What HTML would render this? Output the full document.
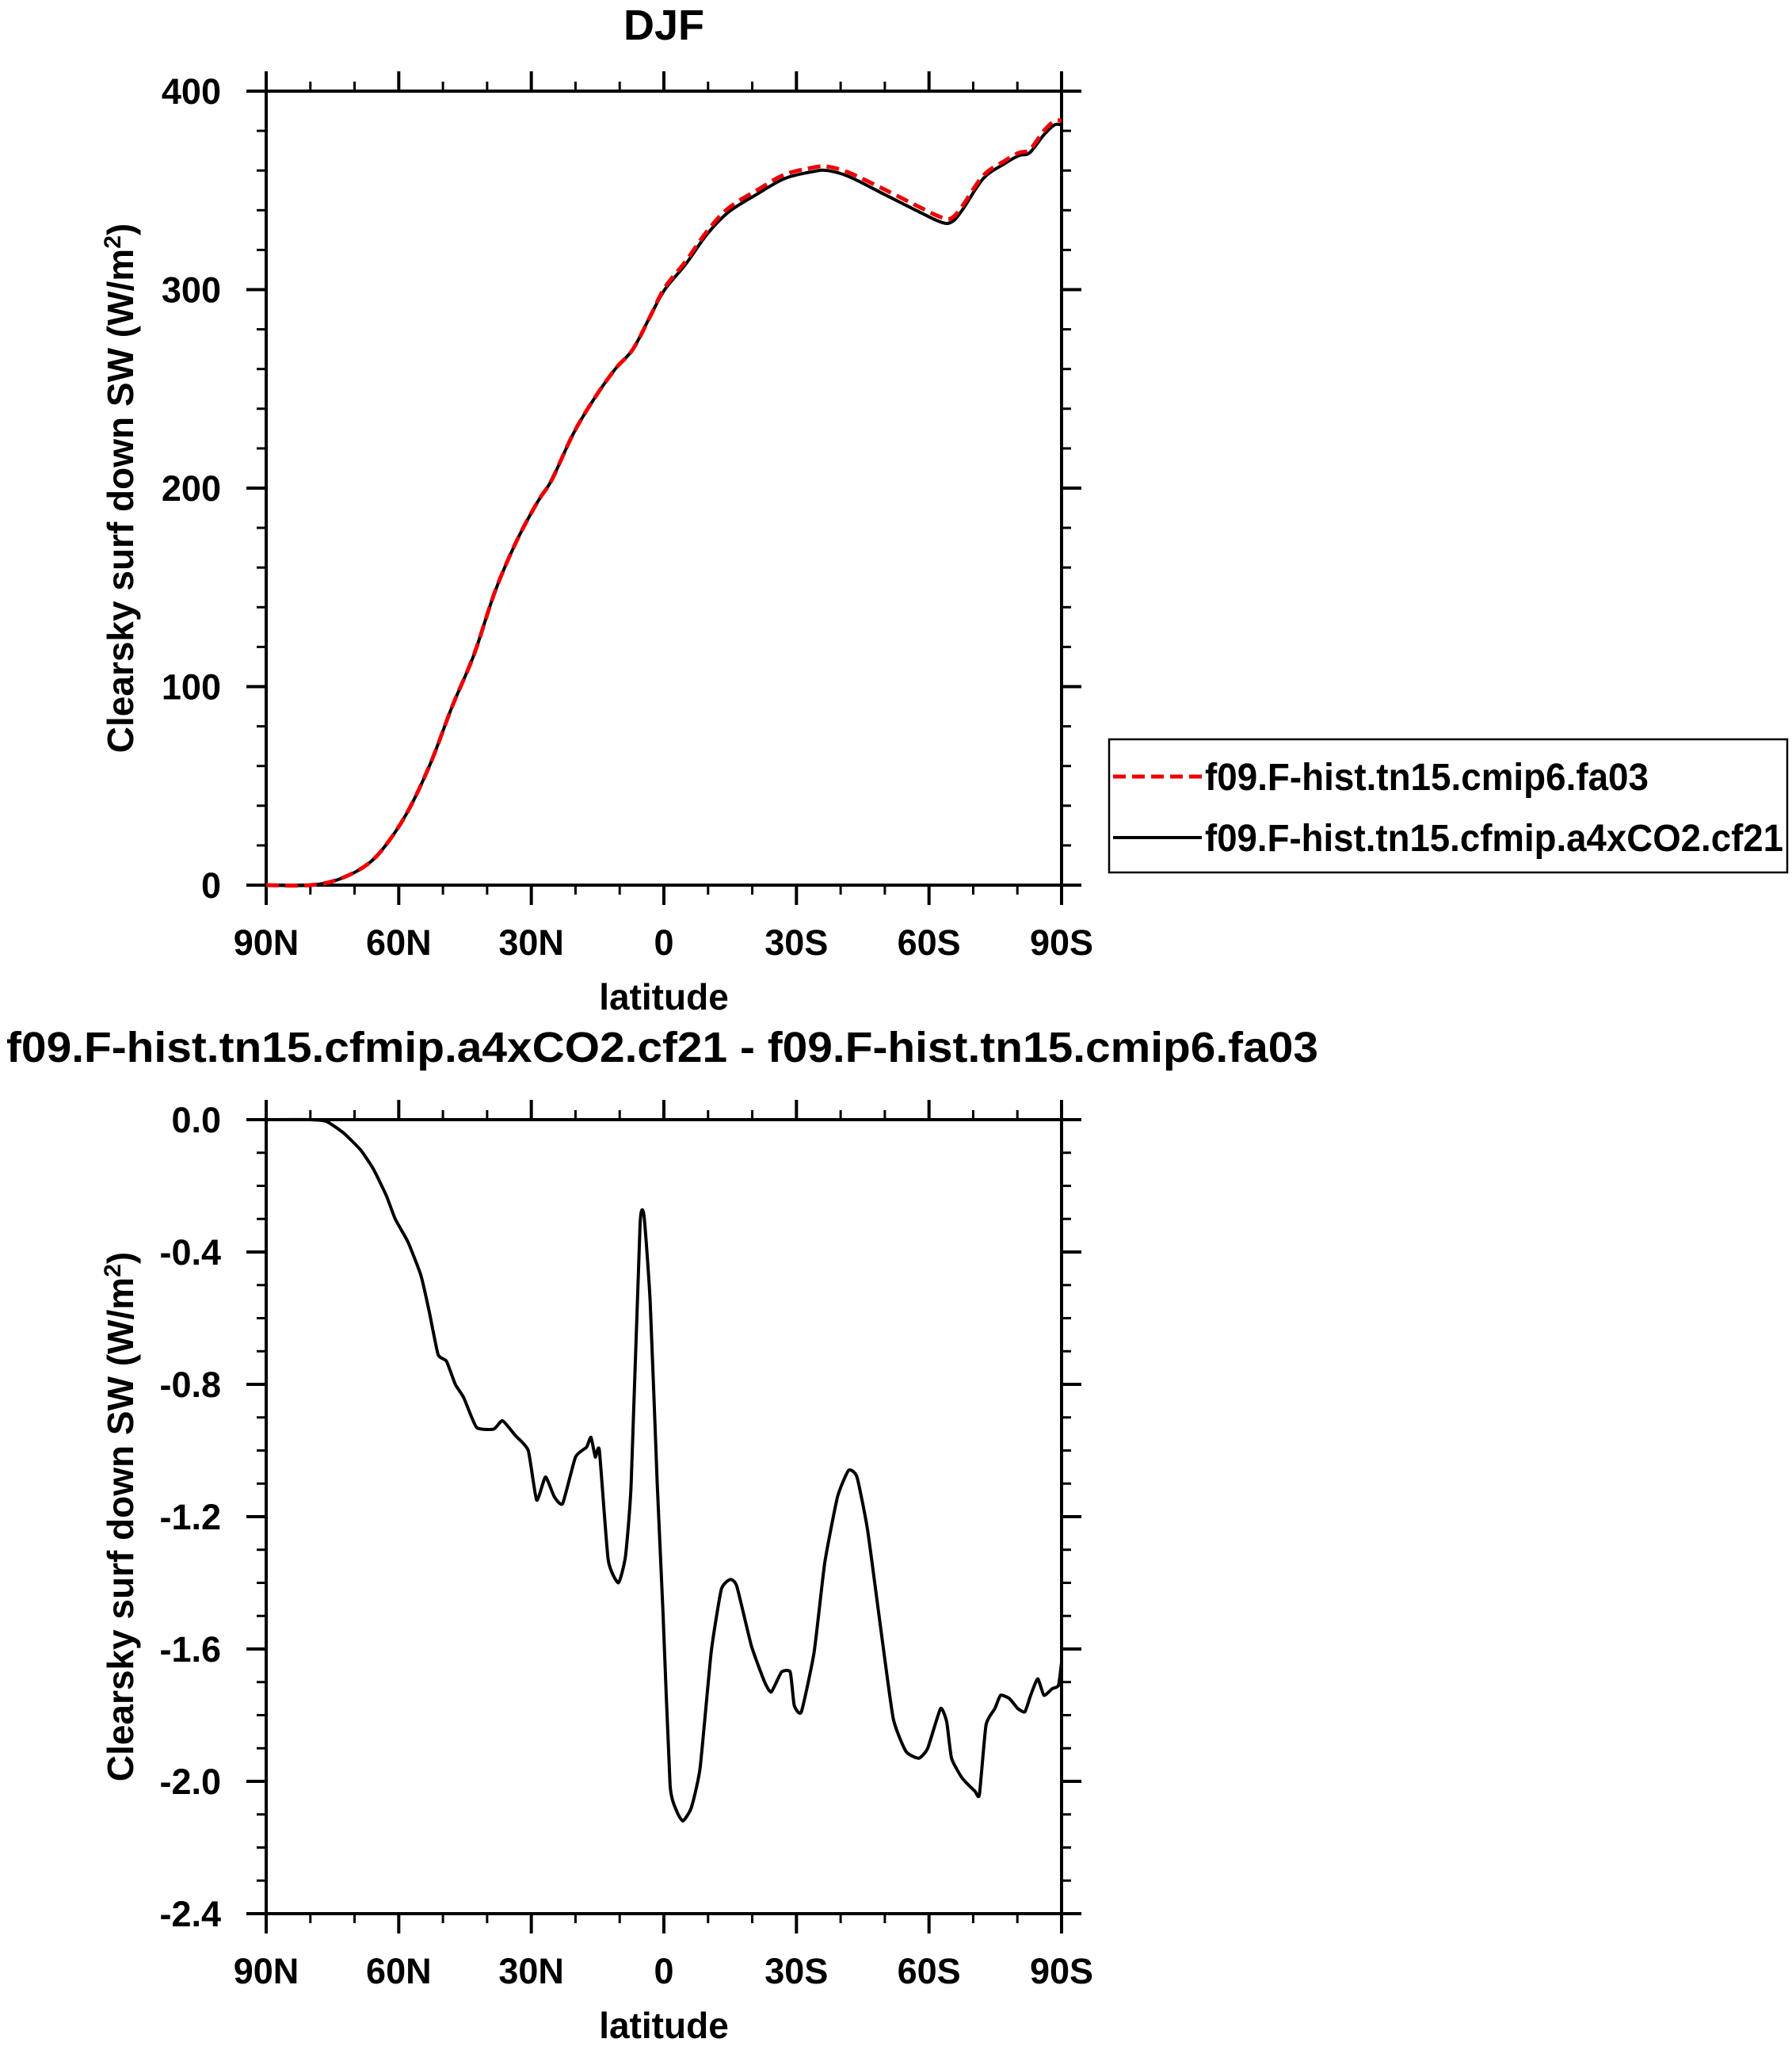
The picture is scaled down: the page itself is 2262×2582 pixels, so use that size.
<!DOCTYPE html>
<html><head><meta charset="utf-8"><style>
html,body{margin:0;padding:0;background:#fff;}
svg{display:block;font-family:"Liberation Sans",sans-serif;font-weight:bold;}
</style></head><body>
<svg id="fig" width="2262" height="2582" viewBox="0 0 2262 2582" xmlns="http://www.w3.org/2000/svg">
<text x="838" y="50" font-size="54" text-anchor="middle">DJF</text>
<text x="836" y="1340" font-size="54" text-anchor="middle" textLength="1656" lengthAdjust="spacingAndGlyphs">f09.F-hist.tn15.cfmip.a4xCO2.cf21 - f09.F-hist.tn15.cmip6.fa03</text>
<g id="top"></g>
<g id="bot"></g>
<g>
<rect x="1400" y="933" width="856" height="168" fill="none" stroke="#000" stroke-width="2.5"/>
<line x1="1405" y1="980" x2="1517" y2="980" stroke="#e00" stroke-width="5" stroke-dasharray="16,8"/>
<text x="1521" y="997" font-size="48" textLength="560" lengthAdjust="spacingAndGlyphs">f09.F-hist.tn15.cmip6.fa03</text>
<line x1="1405" y1="1057" x2="1517" y2="1057" stroke="#000" stroke-width="4"/>
<text x="1521" y="1074" font-size="48" textLength="730" lengthAdjust="spacingAndGlyphs">f09.F-hist.tn15.cfmip.a4xCO2.cf21</text>
</g>
</svg>
<script>
const NS="http://www.w3.org/2000/svg";
const xTickLabels=["90N","60N","30N","0","30S","60S","90S"];
const xTickLats=[90,60,30,0,-30,-60,-90];
const topYTicks=[0,100,200,300,400];
const topYLabels=["0","100","200","300","400"];
const botYTicks=[0,-0.4,-0.8,-1.2,-1.6,-2.0,-2.4];
const botYLabels=["0.0","-0.4","-0.8","-1.2","-1.6","-2.0","-2.4"];
const topLats=[90,80,73.5,67,62.3,57.5,52.7,47.9,43,38.2,33.4,28.6,25.4,20.6,15.8,11,7,3,-0.2,-5,-9.8,-14.6,-21,-27.4,-33.8,-37,-41.8,-49.9,-57.9,-62.7,-65.1,-67.5,-72.3,-77.2,-80.4,-82.8,-86,-88.4,-90];
const cf21Vals=[0,0,3,10.6,22,39,62,90,116,148,173,193,204,227,245,260,270,287,300,313,328,339,348,356,359.5,360,357,348,339,334,334,340,356,363.6,367.6,369,378,383,383];
const fa03Vals=[0,0,3,10.6,22,39,62,90,116,148,173,193,204,227,245,260,270,287,301,314.5,329.5,341,350,358,361.5,362,359,350.5,341.5,336.5,336,342,357.5,365,369,370.5,380,385,385];
const diffLats=[90,80.3,76.4,72.5,68.6,65.7,62.8,60.8,57.9,55,53.1,51.1,49.2,47.2,45.3,42.4,38.5,36.5,33.6,30.7,28.8,26.8,24.8,22.9,20,17.5,16.5,15.5,14.6,12.6,10.3,8.7,7.4,5.4,4.5,3.1,1.5,0.2,-1.4,-2.9,-4.3,-6.2,-8.2,-10.7,-13,-15,-16.5,-19.8,-22.8,-24.3,-26.6,-28.6,-29.5,-31.1,-34,-36.4,-39.3,-41.8,-43.7,-46.1,-49,-51.9,-54.8,-57.7,-59.7,-62.6,-64,-65.1,-67.5,-70.4,-71.4,-72.9,-74.9,-76.2,-78.2,-80.1,-81.7,-83,-84.6,-86,-87.9,-89.3,-90];
const diffVals=[0,0,-0.005,-0.04,-0.092,-0.15,-0.23,-0.30,-0.37,-0.47,-0.58,-0.71,-0.73,-0.80,-0.84,-0.93,-0.935,-0.91,-0.955,-1.00,-1.15,-1.08,-1.14,-1.16,-1.02,-0.99,-0.96,-1.02,-1.00,-1.33,-1.40,-1.32,-1.10,-0.32,-0.29,-0.55,-1.10,-1.49,-2.01,-2.09,-2.12,-2.08,-1.96,-1.61,-1.42,-1.39,-1.41,-1.59,-1.70,-1.73,-1.67,-1.67,-1.77,-1.79,-1.61,-1.34,-1.14,-1.06,-1.08,-1.24,-1.53,-1.81,-1.91,-1.93,-1.90,-1.78,-1.82,-1.93,-1.99,-2.03,-2.04,-1.83,-1.78,-1.74,-1.75,-1.78,-1.79,-1.74,-1.69,-1.74,-1.72,-1.71,-1.64];

function el(tag,attrs,parent){const e=document.createElementNS(NS,tag);for(const k in attrs)e.setAttribute(k,attrs[k]);parent.appendChild(e);return e;}

function panel(g,top,bottom,ymin,ymax,yTicks,yLabels,minorStep,prefix){
  const L=336,R=1340;
  const xs=lat=>L+(90-lat)/180*(R-L);
  const ys=v=>bottom-(v-ymin)/(ymax-ymin)*(bottom-top);
  for(let lat=90;lat>=-90;lat-=10){
    if(lat%30===0)continue;
    const x=xs(lat);
    const t1=el('line',{x1:x,y1:top,x2:x,y2:top-12,stroke:'#000','stroke-width':3},g);
    
    
    const t2=el('line',{x1:x,y1:bottom,x2:x,y2:bottom+12,stroke:'#000','stroke-width':3},g);
    
    
  }
  const nMinor=Math.round((ymax-ymin)/minorStep);
  for(let i=0;i<=nMinor;i++){
    const v=ymin+i*minorStep;
    const y=ys(v);
    const m1=el('line',{x1:L,y1:y,x2:L-12,y2:y,stroke:'#000','stroke-width':3},g);
    
    
    const m2=el('line',{x1:R,y1:y,x2:R+12,y2:y,stroke:'#000','stroke-width':3},g);
    
    
  }
  xTickLats.forEach((lat,i)=>{
    const x=xs(lat);
    const a=el('line',{x1:x,y1:top,x2:x,y2:top-25,stroke:'#000','stroke-width':4},g);
    
    
    const b=el('line',{x1:x,y1:bottom,x2:x,y2:bottom+25,stroke:'#000','stroke-width':4},g);
    
    
    const t=el('text',{x:x,y:bottom+88,'font-size':45,'text-anchor':'middle'},g);
    t.textContent=xTickLabels[i];
    
    
  });
  yTicks.forEach((v,i)=>{
    const y=ys(v);
    const a=el('line',{x1:L,y1:y,x2:L-25,y2:y,stroke:'#000','stroke-width':4},g);
    
    
    const b=el('line',{x1:R,y1:y,x2:R+25,y2:y,stroke:'#000','stroke-width':4},g);
    
    
    const t=el('text',{x:279,y:y+16,'font-size':45,'text-anchor':'end'},g);
    t.textContent=yLabels[i];
    
    
  });
  const fr=el('rect',{x:L,y:top,width:R-L,height:bottom-top,fill:'none',stroke:'#000','stroke-width':4},g);
  
  
  const xl=el('text',{x:(L+R)/2,y:bottom+157,'font-size':46,'text-anchor':'middle'},g);
  xl.textContent='latitude';
  
  
  const cy=(top+bottom)/2;
  const yl=el('text',{x:0,y:0,'font-size':46,'text-anchor':'middle',transform:`translate(168,${cy}) rotate(-90)`},g);
  yl.innerHTML='Clearsky surf down SW (W/m<tspan font-size="30" dy="-16">2</tspan><tspan dy="16">)</tspan>';
  
  
  return {xs,ys};
}
function line(g,s,lats,vals,attrs,name,k){
  const P=lats.map((lat,i)=>[s.xs(lat),s.ys(vals[i])]);
  let d='M'+P[0][0].toFixed(1)+' '+P[0][1].toFixed(1);
  for(let i=0;i<P.length-1;i++){
    const p0=P[Math.max(i-1,0)],p1=P[i],p2=P[i+1],p3=P[Math.min(i+2,P.length-1)];
    const c1=[p1[0]+(p2[0]-p0[0])*k,p1[1]+(p2[1]-p0[1])*k];
    const c2=[p2[0]-(p3[0]-p1[0])*k,p2[1]-(p3[1]-p1[1])*k];
    d+=' C'+c1[0].toFixed(1)+' '+c1[1].toFixed(1)+' '+c2[0].toFixed(1)+' '+c2[1].toFixed(1)+' '+p2[0].toFixed(1)+' '+p2[1].toFixed(1);
  }
  const p=el('path',Object.assign({d:d,fill:'none','stroke-linejoin':'round'},attrs),g);
  
  
}
const gt=document.getElementById('top');
const st=panel(gt,115,1117,0,400,topYTicks,topYLabels,20,'top-');
line(gt,st,topLats,cf21Vals,{stroke:'#000','stroke-width':4},'cf21-line',1/6);
line(gt,st,topLats,fa03Vals,{stroke:'#e00','stroke-width':5,'stroke-dasharray':'16,8'},'fa03-line',1/6);
const gb=document.getElementById('bot');
const sb=panel(gb,1413,2415,-2.4,0,botYTicks,botYLabels,0.1,'bottom-');
line(gb,sb,diffLats,diffVals,{stroke:'#000','stroke-width':4},'difference-line',1/12);
</script>
</body></html>
